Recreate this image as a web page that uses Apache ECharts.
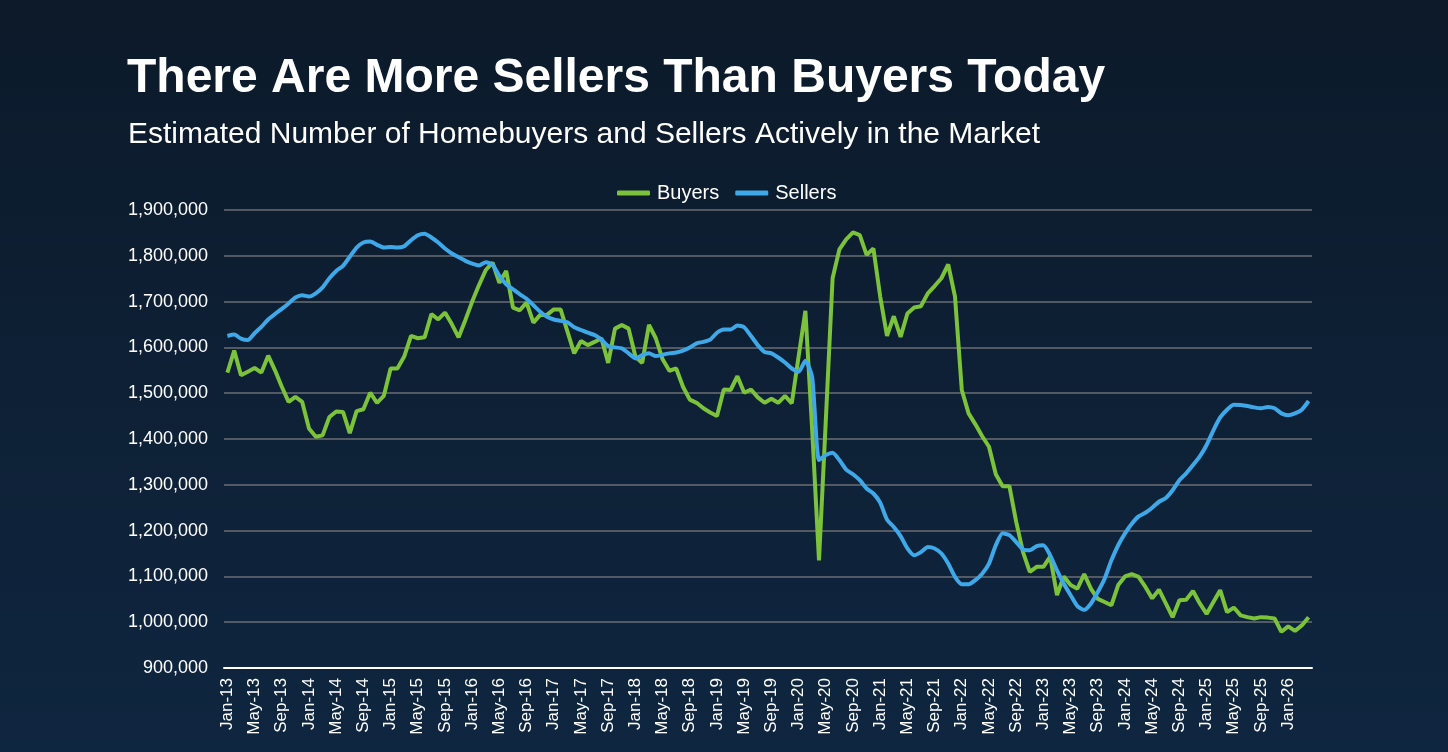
<!DOCTYPE html>
<html>
<head>
<meta charset="utf-8">
<script src="https://cdn.jsdelivr.net/npm/echarts@6/dist/echarts.min.js"></script>
<style>
html, body { margin: 0; padding: 0; width: 100%; height: 100%; background: #0e2035; }
#chart { width: 1448px; height: 752px; }
</style>
</head>
<body>
<div id="chart"></div>
<script type="text/javascript">
// Jan-13 .. Apr-26, monthly
var monthNames = ['Jan', 'Feb', 'Mar', 'Apr', 'May', 'Jun', 'Jul', 'Aug', 'Sep', 'Oct', 'Nov', 'Dec'];
var years = [13, 14, 15, 16, 17, 18, 19, 20, 21, 22, 23, 24, 25, 26];
var lastMonthCount = 4; // 2026 runs to Apr

var categories = [];
years.forEach(function (y, k) {
    var n = (k === years.length - 1) ? lastMonthCount : 12;
    for (var m = 0; m < n; m++) categories.push(monthNames[m] + '-' + y);
});

// values in thousands
var buyers = [
    1545, 1593, 1539, 1547, 1555, 1545, 1582, 1550, 1514, 1481, 1492, 1481,
    1423, 1405, 1408, 1448, 1460, 1459, 1413, 1461, 1465, 1501, 1479, 1494,
    1554, 1554, 1580, 1625, 1620, 1622, 1673, 1661, 1676, 1651, 1622, 1660,
    1700, 1736, 1769, 1785, 1741, 1767, 1687, 1681, 1698, 1654, 1671, 1671,
    1683, 1683, 1635, 1587, 1614, 1605, 1612, 1620, 1566, 1641, 1649, 1641,
    1580, 1566, 1649, 1620, 1574, 1549, 1554, 1514, 1486, 1479, 1467, 1458,
    1450, 1508, 1507, 1537, 1501, 1508, 1491, 1479, 1488, 1479, 1494, 1478,
    1580, 1680, 1419, 1135, 1440, 1751, 1814, 1836, 1851, 1845, 1802, 1816,
    1711, 1625, 1668, 1623, 1674, 1687, 1690, 1718, 1734, 1751, 1781, 1711,
    1507, 1456, 1432, 1406, 1383, 1323, 1297, 1297, 1219, 1153, 1110, 1121,
    1121, 1143, 1059, 1100, 1081, 1073, 1105, 1073, 1051, 1044, 1037, 1081,
    1100, 1105, 1099, 1077, 1052, 1071, 1041, 1011, 1048, 1049, 1068, 1041,
    1018, 1044, 1070, 1022, 1032, 1015, 1011, 1008, 1011, 1010, 1008, 979,
    991, 981, 993, 1011
];

var sellers = [
    1625, 1628, 1619, 1616, 1631, 1645, 1661, 1673, 1684, 1696, 1709, 1714,
    1711, 1718, 1731, 1751, 1767, 1778, 1798, 1818, 1829, 1831, 1824, 1818,
    1819, 1818, 1821, 1834, 1845, 1848, 1840, 1829, 1816, 1805, 1797, 1789,
    1783, 1779, 1786, 1780, 1756, 1738, 1727, 1716, 1706, 1692, 1678, 1667,
    1661, 1658, 1655, 1644, 1638, 1632, 1627, 1617, 1603, 1600, 1598, 1587,
    1576, 1583, 1587, 1581, 1584, 1587, 1589, 1593, 1600, 1609, 1612, 1617,
    1632, 1639, 1639, 1648, 1644, 1625, 1605, 1590, 1587, 1578, 1567, 1554,
    1547, 1571, 1534, 1354, 1365, 1370, 1354, 1333, 1323, 1310, 1292, 1281,
    1261, 1224, 1208, 1188, 1161, 1146, 1153, 1164, 1161, 1150, 1128, 1099,
    1083, 1083, 1092, 1106, 1128, 1168, 1194, 1190, 1175, 1159, 1157, 1166,
    1168, 1146, 1113, 1084, 1059, 1035, 1027, 1041, 1066, 1095, 1135, 1168,
    1194, 1215, 1231, 1239, 1250, 1263, 1271, 1288, 1310, 1325, 1343, 1362,
    1387, 1419, 1447, 1464, 1475, 1474, 1472, 1469, 1467, 1470, 1467, 1456,
    1452, 1456, 1464, 1483
];

var yTicks = { min: 900000, max: 1900000, step: 100000 };

var font = "'Liberation Sans', Arial, Helvetica, sans-serif";

var chart = echarts.init(document.getElementById('chart'));
var option = {
    backgroundColor: {
        type: 'linear', x: 0, y: 0, x2: 0, y2: 1,
        colorStops: [
            { offset: 0, color: '#0c1a2a' },
            { offset: 1, color: '#0f2640' }
        ]
    },
    textStyle: { fontFamily: font },
    title: [
        {
            text: 'There Are More Sellers Than Buyers Today',
            left: 122, top: 50,
            textStyle: { color: '#ffffff', fontSize: 48, fontWeight: 'bold', fontFamily: font }
        },
        {
            text: 'Estimated Number of Homebuyers and Sellers Actively in the Market',
            left: 123, top: 115,
            textStyle: { color: '#ffffff', fontSize: 30, fontWeight: 'normal', fontFamily: font }
        }
    ],
    legend: {
        data: ['Buyers', 'Sellers'],
        left: 612, top: 178,
        icon: 'roundRect',
        itemWidth: 33, itemHeight: 5,
        itemGap: 16,
        textStyle: { color: '#ffffff', fontSize: 20, fontFamily: font, padding: [0, 0, 0, 2] }
    },
    grid: { left: 224, right: 136, top: 210, bottom: 84, containLabel: false },
    xAxis: {
        type: 'category',
        data: categories,
        boundaryGap: true,
        axisLine: { lineStyle: { color: '#ffffff', width: 2 } },
        axisTick: { show: false },
        axisLabel: {
            interval: 3,
            rotate: 90,
            color: '#ffffff',
            fontSize: 17,
            margin: 10,
            fontFamily: font
        }
    },
    yAxis: {
        type: 'value',
        min: yTicks.min, max: yTicks.max, interval: yTicks.step,
        axisLine: { show: false },
        axisTick: { show: false },
        axisLabel: {
            color: '#ffffff',
            fontSize: 18,
            margin: 16,
            fontFamily: font,
            formatter: function (v) { return v.toLocaleString('en-US'); }
        },
        splitLine: { lineStyle: { color: '#6b6e73', width: 1.5 } }
    },
    series: [
        {
            name: 'Buyers',
            type: 'line',
            data: buyers.map(function (v) { return v * 1000; }),
            showSymbol: false,
            symbol: 'none',
            lineStyle: { color: '#7cc23a', width: 4 },
            itemStyle: { color: '#7cc23a' }
        },
        {
            name: 'Sellers',
            type: 'line',
            data: sellers.map(function (v) { return v * 1000; }),
            showSymbol: false,
            symbol: 'none',
            smooth: 0.2,
            lineStyle: { color: '#3ea8e8', width: 4 },
            itemStyle: { color: '#3ea8e8' }
        }
    ]
};
chart.setOption(option);
</script>
</body>
</html>
